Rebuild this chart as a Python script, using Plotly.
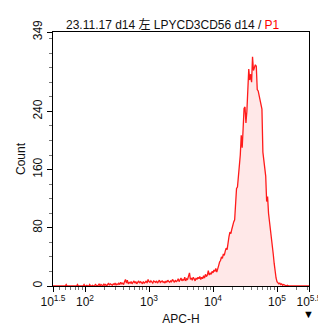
import numpy as np
import plotly.graph_objects as go

# histogram counts, one per bin (log10 bins spanning 10^1.5 .. 10^5.5)
counts = [
    0,0,0,1,0,0,0,0,
    0,1,0,0,0,0,2,0,0,0,
    1,0,0,0,0,0,1,0,2,0,
    0,0,1,0,0,2,0,0,1,0,
    0,2,0,0,1,0,0,2,1,0,
    1,3,0,2,1,0,3,1,2,0,
    2,4,1,3,2,1,3,2,4,1,
    3,2,4,2,5,3,4,2,6,9,
    4,8,3,5,4,6,3,5,7,4,
    6,3,5,7,4,6,5,3,6,4,
    5,7,4,9,6,5,7,6,4,7,
    6,5,7,4,6,8,5,6,7,5,
    6,4,7,5,8,6,5,7,6,9,
    7,5,8,6,7,10,6,8,11,7,
    9,8,12,7,10,9,13,18,9,11,
    8,12,10,7,11,9,12,10,13,9,
    12,10,14,11,16,13,15,21,15,18,
    16,20,18,22,20,24,19,26,28,33,
    35,40,38,44,42,48,52,50,62,68,
    74,72,78,84,88,91,118,134,136,150,
    172,180,207,190,216,244,246,224,240,263,
    298,283,291,280,315,296,300,304,302,270,
    268,262,255,252,243,184,173,168,151,116,
    123,100,90,80,70,57,44,31,18,11,
    6,4,3,4,2,3,1,2,1,0,
    0,1,0,0,0,0,0,0,0,0,
    0,0,0,0,0,0,0,0,0,0,
    0,0,0,0,0,
]
log_min, log_max = 1.5, 5.5
bin_log10 = np.linspace(log_min, log_max, len(counts))
x_vals = 10 ** bin_log10

x_tick_exps = ["1.5", "2", "3", "4", "5", "5.5"]
y_major = [0, 80, 160, 240, 349]
y_minor = [20, 40, 60, 100, 120, 140, 180, 200, 220, 260, 280, 300, 320, 340]

x_tickvals = [10 ** float(e) for e in x_tick_exps]
x_ticktext = ["10<sup>%s</sup>" % e for e in x_tick_exps]
x_minor = []
for dec in [1, 2, 3, 4, 5]:
    for m in range(2, 10):
        v = m * 10 ** dec
        if 10 ** log_min < v < 10 ** log_max:
            x_minor.append(v)

FONT = "Arial, Liberation Sans, sans-serif"

fig = go.Figure()
fig.add_trace(go.Scatter(
    x=x_vals, y=counts, mode="lines",
    line=dict(color="#ff1a1a", width=1.3),
    fill="tozeroy", fillcolor="rgba(255,0,0,0.09)",
    hoverinfo="skip", showlegend=False,
))

fig.update_layout(
    width=326, height=328,
    margin=dict(l=42, r=12, t=17, b=41),
    paper_bgcolor="white", plot_bgcolor="white",
    font=dict(family=FONT, size=11, color="#111"),
    xaxis=dict(
        type="log", range=[log_min, log_max],
        tickmode="array", tickvals=x_tickvals, ticktext=x_ticktext,
        ticks="outside", ticklen=5, tickcolor="black", tickwidth=1,
        tickfont=dict(size=12, family=FONT, color="#111"),
        showline=True, linecolor="black", linewidth=1, mirror=True,
        showgrid=False, zeroline=False,
        minor=dict(tickvals=x_minor, ticks="outside", ticklen=3,
                   tickcolor="#777", showgrid=False),
        title=dict(text="APC-H", font=dict(size=12, family=FONT), standoff=6),
    ),
    yaxis=dict(
        range=[0, 349],
        tickmode="array", tickvals=y_major, ticktext=[str(v) for v in y_major],
        tickangle=-90,
        ticks="outside", ticklen=5, tickcolor="black", tickwidth=1,
        tickfont=dict(size=12, family=FONT, color="#111"),
        showline=True, linecolor="black", linewidth=1, mirror=True,
        showgrid=False, zeroline=False,
        minor=dict(tickvals=y_minor, ticks="outside", ticklen=3,
                   tickcolor="#777", showgrid=False),
        title=dict(text="Count", font=dict(size=12, family=FONT), standoff=3),
    ),
    annotations=[
        dict(text="23.11.17 d14 左 LPYCD3CD56 d14 / <span style='color:#ff0000'>P1</span>",
             xref="paper", yref="paper", x=0.47, y=1.0, yshift=8,
             xanchor="center", yanchor="middle", showarrow=False,
             font=dict(size=12, family=FONT + ", Noto Sans CJK SC", color="#111")),
        dict(text="▼", xref="paper", yref="paper", x=1.0, y=0, xshift=-1, yshift=-28,
             xanchor="center", yanchor="middle", showarrow=False,
             font=dict(size=11, color="black")),
    ],
)

fig.write_html("out.html")
